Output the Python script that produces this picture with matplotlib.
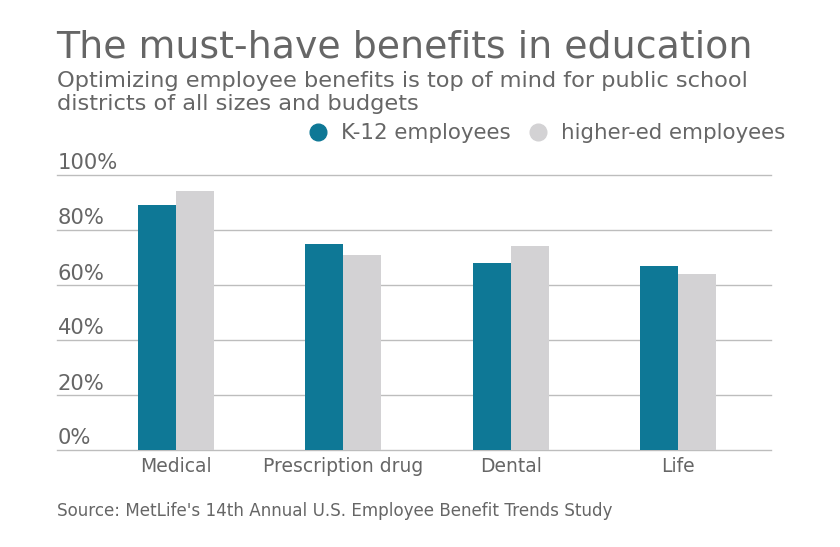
import numpy as np
import matplotlib.pyplot as plt
from matplotlib.lines import Line2D
from matplotlib import transforms

categories = ["Medical", "Prescription drug", "Dental", "Life"]
k12 = [89, 75, 68, 67]
higher_ed = [94, 71, 74, 64]
yticks = [0, 20, 40, 60, 80, 100]
ytick_labels = ["0%", "20%", "40%", "60%", "80%", "100%"]

teal = "#0e7896"
grey = "#d3d2d4"
txt = "#666666"

plt.rcParams["font.family"] = "DejaVu Sans"

W, H = 840, 547
fig = plt.figure(figsize=(W / 100, H / 100), dpi=100)
ax = fig.add_axes([57 / W, (H - 450) / H, 714 / W, 275 / H])

x = np.arange(len(categories))
width = 0.227
ax.bar(x - width / 2, k12, width, color=teal, label="K-12 employees")
ax.bar(x + width / 2, higher_ed, width, color=grey, label="higher-ed employees")

ax.set_xlim(-0.709, 3.554)
ax.set_ylim(0, 100)
ax.set_yticks(yticks)
ax.set_yticklabels([])
ax.yaxis.grid(True, color="#bdbdbd", linewidth=1)
for gl in ax.get_ygridlines():
    gl.set_clip_on(False)
ax.set_axisbelow(True)
for s in ax.spines.values():
    s.set_visible(False)
ax.tick_params(axis="y", length=0)
ax.tick_params(axis="x", length=0, pad=5, labelsize=13.5, labelcolor=txt)
ax.set_xticks(x)
ax.set_xticklabels(categories)

# y labels sit just above their gridlines, inside the plot
off = transforms.offset_copy(ax.get_yaxis_transform(), fig=fig, x=1, y=5.5, units="dots")
for v, lab in zip(yticks, ytick_labels):
    ax.text(0, v, lab, transform=off, ha="left", va="baseline", fontsize=15.2, color=txt)

fig.text(56 / W, 1 - 57.3 / H, "The must-have benefits in education", fontsize=27.3,
         color=txt, va="baseline", ha="left")
fig.text(57 / W, 1 - 87.3 / H, "Optimizing employee benefits is top of mind for public school",
         fontsize=16.2, color=txt, va="baseline", ha="left")
fig.text(57 / W, 1 - 110 / H, "districts of all sizes and budgets",
         fontsize=16.2, color=txt, va="baseline", ha="left")
fig.text(57 / W, 1 - 516 / H, "Source: MetLife's 14th Annual U.S. Employee Benefit Trends Study",
         fontsize=12.1, color=txt, va="baseline", ha="left")

handles = [Line2D([], [], marker="o", linestyle="none", markersize=12, color=teal),
           Line2D([], [], marker="o", linestyle="none", markersize=12, color=grey)]
leg = fig.legend(handles, ["K-12 employees", "higher-ed employees"], ncol=2,
                 loc="center right", bbox_to_anchor=(785 / W, 1 - 133 / H),
                 frameon=False, fontsize=15.4, handletextpad=0.55, columnspacing=0.8,
                 handlelength=1.0, borderpad=0, borderaxespad=0)
for t in leg.get_texts():
    t.set_color(txt)

fig.savefig("out.png", dpi=100)
